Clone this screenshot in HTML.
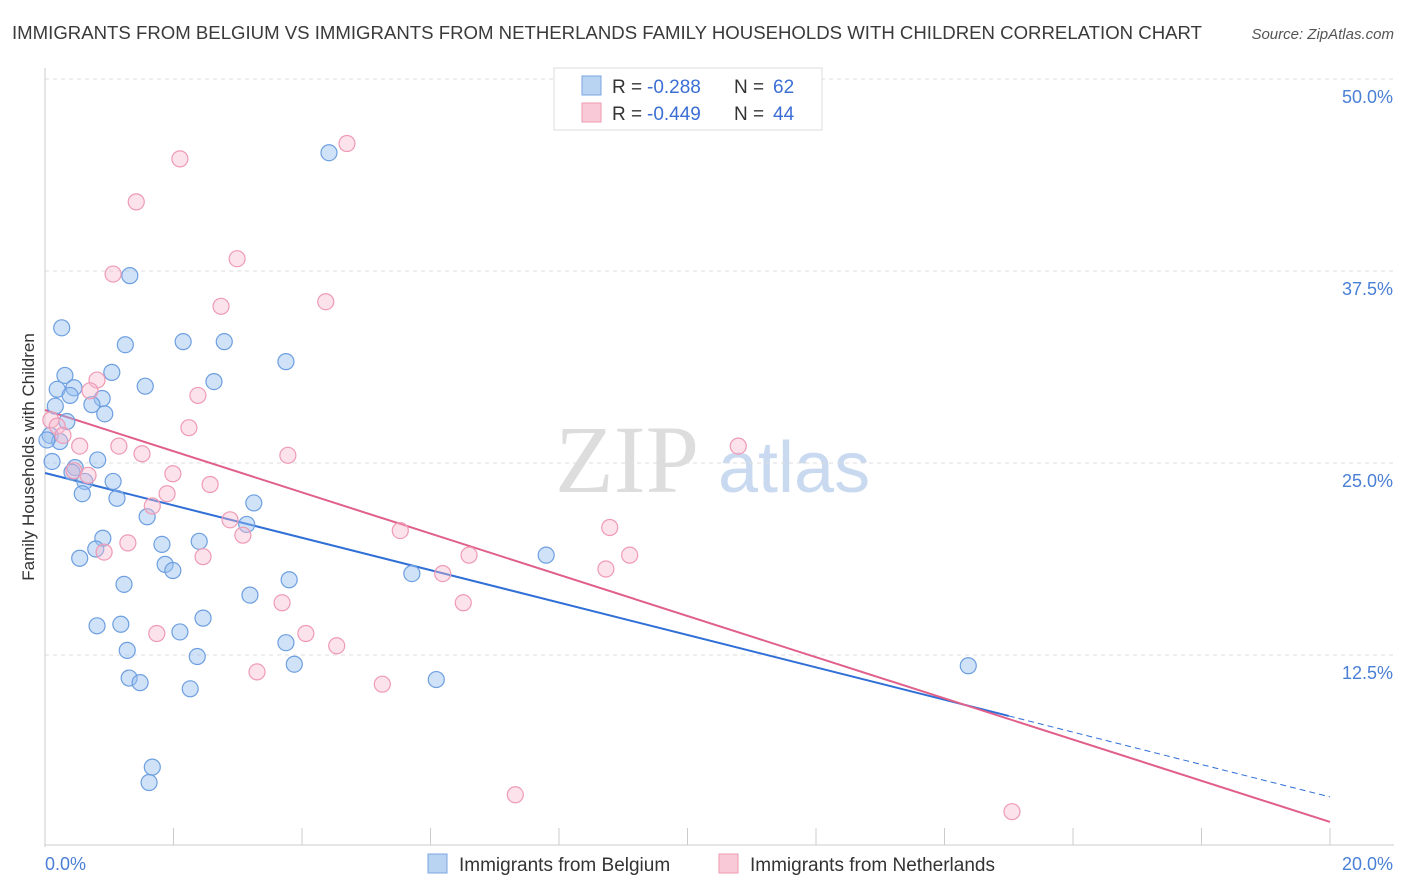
<!DOCTYPE html>
<html><head><meta charset="utf-8"><style>
body{margin:0;background:#fff;font-family:"Liberation Sans",sans-serif;}
svg{display:block}
</style></head><body>
<svg id="chart" width="1406" height="892" xmlns="http://www.w3.org/2000/svg">
<text x="12" y="39" font-size="18" fill="#3a3a3a" textLength="1190" lengthAdjust="spacingAndGlyphs">IMMIGRANTS FROM BELGIUM VS IMMIGRANTS FROM NETHERLANDS FAMILY HOUSEHOLDS WITH CHILDREN CORRELATION CHART</text>
<text x="1394" y="39" font-size="15" fill="#555" font-style="italic" text-anchor="end">Source: ZipAtlas.com</text>
<g><text x="555" y="492" font-size="96" fill="#ddd" font-family="Liberation Serif,serif">ZIP</text><text x="718" y="492" font-size="72" fill="#c9daf0">atlas</text></g>
<g id="grid"></g><g id="axes"></g><g id="trend"></g><g id="pts"></g>
<text transform="translate(34,457) rotate(-90)" font-size="17" fill="#333" text-anchor="middle">Family Households with Children</text>
<g>
<rect x="554" y="68" width="268" height="62" fill="#fff" stroke="#ddd"/>
<rect x="582" y="76" width="19" height="19" fill="#b9d3f2" stroke="#7aa6e0"/>
<rect x="582" y="103" width="19" height="19" fill="#f9c9d7" stroke="#ee9ab3"/>
<text x="612" y="93" font-size="19" fill="#333">R =</text><text x="647" y="93" font-size="19" fill="#3b6fd4">-0.288</text>
<text x="734" y="93" font-size="19" fill="#333">N =</text><text x="773" y="93" font-size="19" fill="#3b6fd4">62</text>
<text x="612" y="120" font-size="19" fill="#333">R =</text><text x="647" y="120" font-size="19" fill="#3b6fd4">-0.449</text>
<text x="734" y="120" font-size="19" fill="#333">N =</text><text x="773" y="120" font-size="19" fill="#3b6fd4">44</text>
</g>
<g>
<rect x="428" y="854" width="19" height="19" fill="#b9d3f2" stroke="#7aa6e0"/>
<text x="459" y="871" font-size="19" fill="#333">Immigrants from Belgium</text>
<rect x="719" y="854" width="19" height="19" fill="#f9c9d7" stroke="#ee9ab3"/>
<text x="750" y="871" font-size="19" fill="#333">Immigrants from Netherlands</text>
</g>
</svg>
<script>
const yTicks=[50,37.5,25,12.5];
const yTickLabels=["50.0%","37.5%","25.0%","12.5%"];
const xTickLabels=["0.0%","20.0%"];
const blueX=[4.42,1.32,0.26,1.25,2.15,2.79,3.75,1.04,0.31,1.56,2.63,0.45,0.19,0.39,0.89,0.73,0.16,0.93,0.34,0.08,0.23,0.11,0.82,0.47,0.42,0.62,1.06,0.58,1.12,1.59,3.25,3.14,0.90,1.82,2.40,0.79,0.54,1.87,1.99,7.80,5.71,3.80,1.23,3.19,2.46,0.81,1.18,2.10,3.75,1.28,2.37,3.88,14.37,1.31,1.48,6.09,2.26,1.67,1.62,0.03];
const blueY=[45.2,37.2,33.8,32.7,32.9,32.9,31.6,30.9,30.7,30.0,30.3,29.9,29.8,29.4,29.2,28.8,28.7,28.2,27.7,26.8,26.4,25.1,25.2,24.7,24.4,23.8,23.8,23.0,22.7,21.5,22.4,21.0,20.1,19.7,19.9,19.4,18.8,18.4,18.0,19.0,17.8,17.4,17.1,16.4,14.9,14.4,14.5,14.0,13.3,12.8,12.4,11.9,11.8,10.999,10.7,10.9,10.3,5.2,4.2,26.5];
const pinkX=[4.70,2.10,1.42,1.06,2.99,2.74,4.37,0.81,2.38,0.70,0.09,0.19,0.28,0.54,1.15,1.51,2.24,10.79,3.78,0.45,0.67,1.99,2.57,1.90,1.67,2.88,3.08,5.53,8.79,1.29,0.92,2.46,6.60,9.10,8.73,6.19,3.69,6.51,4.06,1.74,4.54,3.30,5.25,7.32,15.05];
const pinkY=[45.8,44.8,42.0,37.3,38.3,35.2,35.5,30.4,29.4,29.7,27.8,27.4,26.8,26.1,26.1,25.6,27.3,26.1,25.5,24.5,24.2,24.3,23.6,23.0,22.2,21.3,20.3,20.6,20.8,19.8,19.2,18.9,19.0,19.0,18.1,17.8,15.9,15.9,13.9,13.9,13.1,11.4,10.6,3.4,2.3];
const blueLine=[24.35,3.26], blueSolidEnd=15.0;
const pinkLine=[28.45,1.63];
const X=v=>45+v*64.25, Y=v=>847-v*15.36;
const NS="http://www.w3.org/2000/svg";
function mk(t,a,p){const e=document.createElementNS(NS,t);for(const k in a)e.setAttribute(k,a[k]);document.getElementById(p).appendChild(e);return e;}
yTicks.forEach((t,i)=>{
 const g=mk('line',{x1:45,x2:1394,y1:Y(t),y2:Y(t),stroke:'#ddd','stroke-dasharray':'4,4'},'grid');
 
 
 const l=mk('text',{x:1393,y:Y(t)+24,'font-size':18,fill:'#4a7fd6','text-anchor':'end'},'axes');l.textContent=yTickLabels[i];
 
 
});
mk('line',{x1:45,x2:45,y1:68,y2:847,stroke:'#ccc'},'axes');
mk('line',{x1:45,x2:1394,y1:845,y2:845,stroke:'#ccc'},'axes');
for(let i=0;i<=10;i++){mk('line',{x1:X(i*2),x2:X(i*2),y1:828,y2:845,stroke:'#ccc'},'axes');}
[[0,'start',45],[1,'end',1393]].forEach(([i,a,x])=>{const l=mk('text',{x:x,y:870,'font-size':18,fill:'#4a7fd6','text-anchor':a},'axes');l.textContent=xTickLabels[i];
 
 });
const lb=v=>blueLine[0]+(blueLine[1]-blueLine[0])*v/20, lp=v=>pinkLine[0]+(pinkLine[1]-pinkLine[0])*v/20;
blueX.forEach((x,i)=>{const c=mk('circle',{cx:X(x),cy:Y(blueY[i]),r:8,fill:'rgba(150,190,240,0.45)',stroke:'#6d9fe0','stroke-width':1.2},'pts');
 
 });
pinkX.forEach((x,i)=>{const c=mk('circle',{cx:X(x),cy:Y(pinkY[i]),r:8,fill:'rgba(248,185,205,0.4)',stroke:'#ef9ab4','stroke-width':1.2},'pts');
 
 });
let t=mk('line',{x1:X(0),y1:Y(lb(0)),x2:X(blueSolidEnd),y2:Y(lb(blueSolidEnd)),stroke:'#2f6fd6','stroke-width':2},'trend');


t=mk('line',{x1:X(blueSolidEnd),y1:Y(lb(blueSolidEnd)),x2:X(20),y2:Y(lb(20)),stroke:'#2f6fd6','stroke-width':1,'stroke-dasharray':'6,4'},'trend');


t=mk('line',{x1:X(0),y1:Y(lp(0)),x2:X(20),y2:Y(lp(20)),stroke:'#e0608a','stroke-width':2},'trend');


</script>
</body></html>
